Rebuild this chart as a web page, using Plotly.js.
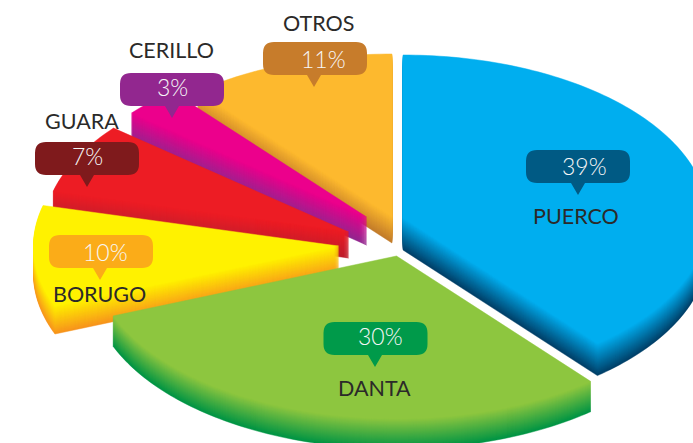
<!DOCTYPE html>
<html>
<head>
<meta charset="utf-8">
<script src="https://cdn.plot.ly/plotly-3.0.1.min.js"></script>
<style>html,body{margin:0;padding:0;background:#fff;overflow:hidden}#chart{width:693px;height:443px}</style>
</head>
<body>
<div id="chart"></div>
<script>
// Data
var categories = ['PUERCO', 'DANTA', 'BORUGO', 'GUARA', 'CERILLO', 'OTROS'];
var percents = [39, 30, 10, 7, 3, 11];

// Styles and placement
var faceColors = ['#00AEEF', '#8DC63F', '#FFF200', '#ED1C24', '#EC008C', '#FDB92E'];
var edgeColors = ['#004068', '#009444', '#F7941D', '#BE1E2D', '#92278F', '#C27C2C'];
var bubbleColors = ['#005A84', '#009A4A', '#FBAC18', '#7F1A1C', '#92278F', '#C77C2B'];
var apexX = [403, 396.5, 338.5, 348.5, 366.5, 392];
var apexY = [218, 256, 246, 232, 217, 217];
var depths = [32, 30, 28, 26, 28, 26];
var bubbleLeft = [526, 323.5, 49, 35, 120, 263];
var bubbleTop = [150, 322, 235, 142, 73, 42];
var tailX = [578, 375, 100, 87, 172, 314];
var pctX = [584, 380, 105, 87, 172, 323];
var pctY = [166, 336, 252, 156, 87, 59];
var labelX = [576, 374, 99, 82, 171, 318];
var labelY = [216, 388, 294, 121, 50, 23];
var radiusX = 305, radiusY = 163;
var bubbleW = 104, bubbleH = 33, cornerR = 11, tailH = 12, tailW = 7;
var fontName = 'Lato, "Open Sans", sans-serif';

function hexToRgb(h) {
  return [parseInt(h.substr(1, 2), 16), parseInt(h.substr(3, 2), 16), parseInt(h.substr(5, 2), 16)];
}
function mix(a, b, t) {
  var A = hexToRgb(a), B = hexToRgb(b);
  return 'rgb(' + [0, 1, 2].map(function (i) { return Math.round(A[i] + (B[i] - A[i]) * t); }).join(',') + ')';
}

var total = percents.reduce(function (s, v) { return s + v; }, 0);
var starts = [], running = 0;
percents.forEach(function (v) { starts.push(running / total * 2 * Math.PI); running += v; });

function wedge(i, dy) {
  var a0 = starts[i], a1 = a0 + percents[i] / total * 2 * Math.PI;
  var n = Math.max(8, Math.ceil((a1 - a0) / 0.02));
  var xs = [apexX[i]], ys = [apexY[i] + dy];
  for (var k = 0; k <= n; k++) {
    var a = a0 + (a1 - a0) * k / n;
    xs.push(apexX[i] + radiusX * Math.sin(a));
    ys.push(apexY[i] + dy - radiusY * Math.cos(a));
  }
  xs.push(apexX[i]); ys.push(apexY[i] + dy);
  return { x: xs, y: ys };
}

var traces = [];
var drawOrder = [5, 4, 3, 2, 1, 0];
drawOrder.forEach(function (i) {
  for (var d = depths[i]; d >= 0; d--) {
    var w = wedge(i, d);
    var color = mix(faceColors[i], edgeColors[i], d / depths[i]);
    traces.push({
      type: 'scatter', mode: 'lines', x: w.x, y: w.y, fill: 'toself',
      fillcolor: color, line: { width: 0.5, color: color, simplify: false },
      name: categories[i], hoverinfo: 'skip', showlegend: false
    });
  }
});

function bubblePath(i) {
  var l = bubbleLeft[i], t = bubbleTop[i], r = l + bubbleW, b = t + bubbleH, c = cornerR, tx = tailX[i];
  return 'M ' + (l + c) + ' ' + t + ' L ' + (r - c) + ' ' + t +
    ' Q ' + r + ' ' + t + ' ' + r + ' ' + (t + c) + ' L ' + r + ' ' + (b - c) +
    ' Q ' + r + ' ' + b + ' ' + (r - c) + ' ' + b +
    ' L ' + (tx + tailW) + ' ' + b + ' L ' + tx + ' ' + (b + tailH) + ' L ' + (tx - tailW) + ' ' + b +
    ' L ' + (l + c) + ' ' + b + ' Q ' + l + ' ' + b + ' ' + l + ' ' + (b - c) +
    ' L ' + l + ' ' + (t + c) + ' Q ' + l + ' ' + t + ' ' + (l + c) + ' ' + t + ' Z';
}

var shapes = categories.map(function (c, i) {
  return { type: 'path', xref: 'x', yref: 'y', path: bubblePath(i), fillcolor: bubbleColors[i], line: { width: 0 }, layer: 'above' };
});

var annotations = [];
categories.forEach(function (c, i) {
  annotations.push({ x: pctX[i], y: pctY[i], xref: 'x', yref: 'y', text: percents[i] + '%', showarrow: false,
    xanchor: 'center', yanchor: 'middle', font: { family: fontName, size: 23, weight: 300, color: '#F7F7F7' } });
  annotations.push({ x: labelX[i], y: labelY[i], xref: 'x', yref: 'y', text: c, showarrow: false,
    xanchor: 'center', yanchor: 'middle', font: { family: fontName, size: 21.5, color: '#2B2A29' } });
});

Plotly.newPlot('chart', traces, {
  width: 693, height: 443,
  margin: { l: 0, r: 0, t: 0, b: 0 },
  paper_bgcolor: '#FFFFFF', plot_bgcolor: '#FFFFFF',
  showlegend: false,
  xaxis: { range: [0, 693], visible: false, fixedrange: true },
  yaxis: { range: [443, 0], visible: false, fixedrange: true },
  shapes: shapes, annotations: annotations
}, { staticPlot: true, displayModeBar: false });
</script>
</body>
</html>
